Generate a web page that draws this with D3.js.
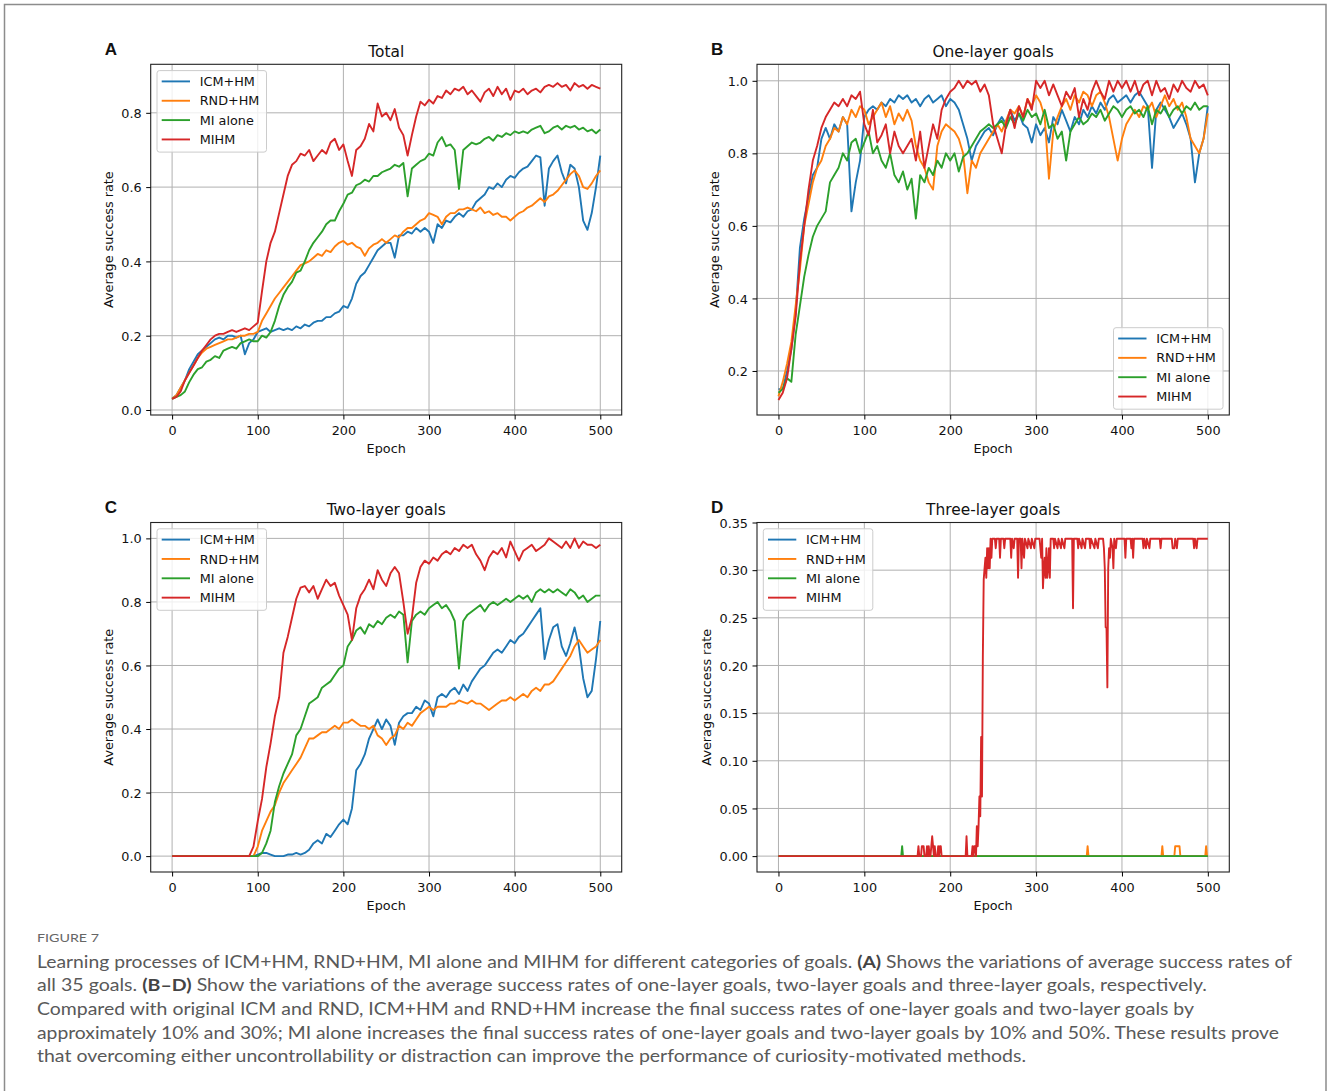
<!DOCTYPE html>
<html>
<head>
<meta charset="utf-8">
<script src="https://cdn.jsdelivr.net/npm/d3@7"></script>
<style>
  body { margin: 0; background: #fff; }
</style>
</head>
<body>
<svg id="fig" width="1328" height="1091"></svg>
<script>
// x categories: epochs sampled every 5
const epochs = d3.range(0, 501, 5);
const methodNames = ["ICM+HM", "RND+HM", "MI alone", "MIHM"];
const methodColors = ["#1f77b4", "#ff7f0e", "#2ca02c", "#d62728"];
const xTicks = [0, 100, 200, 300, 400, 500];

// (A) Total
const totalICM = [
  0.03,0.04,0.06,0.08,0.11,0.13,0.15,0.16,0.17,0.18,
  0.19,0.195,0.19,0.20,0.20,0.195,0.20,0.15,0.18,0.19,
  0.21,0.215,0.22,0.21,0.215,0.22,0.215,0.22,0.215,0.225,
  0.22,0.23,0.225,0.235,0.24,0.24,0.25,0.25,0.26,0.265,
  0.28,0.275,0.30,0.34,0.36,0.37,0.39,0.41,0.43,0.44,
  0.45,0.45,0.41,0.47,0.47,0.48,0.475,0.49,0.48,0.49,
  0.48,0.45,0.50,0.49,0.51,0.505,0.52,0.53,0.52,0.535,
  0.54,0.56,0.57,0.58,0.60,0.595,0.61,0.60,0.62,0.63,
  0.625,0.64,0.65,0.655,0.67,0.685,0.68,0.55,0.65,0.67,
  0.685,0.64,0.61,0.66,0.65,0.60,0.51,0.485,0.53,0.60,
  0.685
];
const totalRND = [
  0.03,0.04,0.06,0.08,0.10,0.12,0.14,0.155,0.165,0.17,
  0.175,0.18,0.185,0.19,0.19,0.195,0.20,0.20,0.205,0.205,
  0.21,0.24,0.26,0.28,0.30,0.315,0.33,0.345,0.36,0.375,
  0.39,0.395,0.40,0.41,0.42,0.415,0.43,0.425,0.44,0.45,
  0.455,0.445,0.45,0.44,0.435,0.415,0.435,0.445,0.45,0.46,
  0.45,0.46,0.47,0.465,0.48,0.49,0.49,0.50,0.51,0.515,
  0.53,0.525,0.52,0.50,0.52,0.53,0.53,0.54,0.54,0.545,
  0.54,0.535,0.545,0.53,0.535,0.525,0.53,0.52,0.52,0.51,
  0.52,0.53,0.535,0.545,0.55,0.56,0.57,0.56,0.575,0.58,
  0.59,0.605,0.62,0.635,0.645,0.63,0.60,0.595,0.61,0.63,
  0.645
];
const totalMI = [
  0.03,0.035,0.04,0.05,0.075,0.095,0.11,0.115,0.13,0.135,
  0.145,0.14,0.16,0.165,0.17,0.165,0.18,0.185,0.19,0.185,
  0.185,0.20,0.195,0.21,0.24,0.28,0.31,0.33,0.345,0.37,
  0.375,0.40,0.43,0.45,0.465,0.48,0.50,0.51,0.51,0.535,
  0.555,0.58,0.585,0.605,0.61,0.62,0.615,0.63,0.63,0.64,
  0.645,0.65,0.66,0.655,0.665,0.575,0.65,0.66,0.67,0.675,
  0.69,0.685,0.72,0.735,0.71,0.715,0.70,0.595,0.70,0.71,
  0.72,0.715,0.72,0.73,0.735,0.725,0.74,0.735,0.745,0.74,
  0.75,0.745,0.75,0.745,0.755,0.76,0.765,0.745,0.75,0.76,
  0.765,0.755,0.765,0.76,0.765,0.755,0.76,0.75,0.755,0.745,
  0.755
];
const totalMIHM = [
  0.03,0.035,0.05,0.08,0.10,0.12,0.14,0.16,0.175,0.19,
  0.20,0.205,0.205,0.21,0.215,0.21,0.215,0.22,0.215,0.225,
  0.235,0.32,0.40,0.45,0.48,0.53,0.58,0.63,0.66,0.67,
  0.69,0.685,0.70,0.67,0.685,0.70,0.69,0.72,0.73,0.70,
  0.715,0.67,0.63,0.70,0.71,0.73,0.77,0.75,0.825,0.79,
  0.80,0.78,0.81,0.76,0.74,0.685,0.74,0.79,0.83,0.82,
  0.835,0.825,0.845,0.84,0.86,0.85,0.865,0.86,0.87,0.85,
  0.86,0.845,0.83,0.855,0.865,0.845,0.87,0.85,0.865,0.835,
  0.86,0.855,0.865,0.85,0.86,0.865,0.855,0.87,0.875,0.87,
  0.88,0.87,0.875,0.86,0.88,0.87,0.875,0.865,0.875,0.87,
  0.865
];

// (B) One-layer goals
const oneICM = [
  0.15,0.15,0.20,0.26,0.36,0.54,0.62,0.68,0.74,0.76,
  0.84,0.87,0.84,0.88,0.86,0.90,0.88,0.64,0.72,0.78,
  0.90,0.92,0.93,0.92,0.94,0.93,0.95,0.94,0.96,0.95,
  0.96,0.94,0.95,0.93,0.95,0.96,0.94,0.95,0.96,0.93,
  0.95,0.94,0.92,0.88,0.84,0.78,0.82,0.84,0.86,0.87,
  0.85,0.88,0.90,0.88,0.92,0.89,0.91,0.88,0.87,0.83,
  0.88,0.85,0.87,0.83,0.90,0.88,0.92,0.89,0.86,0.90,
  0.88,0.92,0.90,0.93,0.91,0.94,0.92,0.95,0.96,0.94,
  0.95,0.96,0.94,0.96,0.97,0.95,0.93,0.76,0.92,0.94,
  0.92,0.90,0.87,0.89,0.91,0.88,0.84,0.72,0.80,0.84,
  0.93
];
const oneRND = [
  0.13,0.17,0.22,0.28,0.38,0.48,0.60,0.66,0.72,0.76,
  0.78,0.82,0.84,0.87,0.86,0.90,0.88,0.92,0.90,0.93,
  0.92,0.88,0.90,0.92,0.94,0.90,0.93,0.88,0.91,0.89,
  0.92,0.89,0.82,0.78,0.76,0.72,0.70,0.82,0.86,0.88,
  0.87,0.86,0.84,0.80,0.69,0.78,0.76,0.80,0.82,0.84,
  0.86,0.88,0.86,0.89,0.92,0.91,0.93,0.90,0.95,0.93,
  0.96,0.94,0.90,0.73,0.86,0.90,0.93,0.95,0.92,0.96,
  0.94,0.97,0.96,0.93,0.96,0.97,0.94,0.90,0.84,0.78,
  0.84,0.88,0.90,0.92,0.90,0.93,0.92,0.94,0.90,0.93,
  0.96,0.93,0.95,0.92,0.94,0.90,0.84,0.82,0.80,0.84,
  0.91
];
const oneMI = [
  0.14,0.15,0.18,0.17,0.30,0.38,0.46,0.52,0.57,0.60,
  0.62,0.64,0.72,0.74,0.76,0.80,0.78,0.83,0.84,0.80,
  0.83,0.86,0.80,0.82,0.78,0.76,0.80,0.74,0.72,0.75,
  0.70,0.73,0.62,0.74,0.72,0.76,0.74,0.78,0.76,0.80,
  0.78,0.80,0.75,0.79,0.80,0.82,0.84,0.86,0.87,0.88,
  0.87,0.88,0.89,0.87,0.90,0.88,0.91,0.89,0.92,0.90,
  0.91,0.88,0.92,0.87,0.88,0.84,0.86,0.78,0.86,0.88,
  0.90,0.88,0.89,0.91,0.90,0.92,0.89,0.91,0.93,0.92,
  0.90,0.92,0.93,0.91,0.92,0.90,0.93,0.88,0.92,0.91,
  0.93,0.90,0.92,0.93,0.91,0.93,0.92,0.94,0.92,0.93,
  0.93
];
const oneMIHM = [
  0.12,0.14,0.18,0.26,0.35,0.50,0.60,0.70,0.78,0.82,
  0.87,0.90,0.92,0.94,0.93,0.95,0.93,0.96,0.95,0.97,
  0.88,0.85,0.92,0.83,0.85,0.88,0.80,0.86,0.82,0.80,
  0.82,0.84,0.78,0.86,0.76,0.82,0.88,0.84,0.92,0.95,
  0.97,0.98,1.0,0.98,1.0,0.99,1.0,0.97,0.99,0.96,
  0.88,0.84,0.80,0.88,0.92,0.87,0.93,0.90,0.95,0.92,
  1.0,0.98,1.0,0.96,0.99,0.96,0.93,0.97,0.95,0.98,
  0.90,0.95,0.92,0.97,1.0,0.97,0.95,1.0,0.97,1.0,
  0.98,1.0,0.97,1.0,0.96,0.99,1.0,0.96,1.0,0.97,
  0.98,0.95,0.99,0.97,1.0,0.98,0.97,1.0,0.98,0.99,
  0.96
];

// (C) Two-layer goals
const twoICM = [
  0,0,0,0,0,0,0,0,0,0,
  0,0,0,0,0,0,0,0,0,0,
  0.005,0.01,0.01,0.005,0.0,0.0,0.0,0.005,0.005,0.01,
  0.005,0.01,0.02,0.04,0.05,0.04,0.07,0.06,0.08,0.10,
  0.115,0.10,0.15,0.27,0.29,0.32,0.37,0.40,0.43,0.40,
  0.43,0.41,0.35,0.42,0.44,0.45,0.45,0.47,0.46,0.49,
  0.48,0.44,0.50,0.51,0.50,0.52,0.53,0.51,0.54,0.52,
  0.55,0.57,0.59,0.60,0.62,0.64,0.65,0.64,0.66,0.68,
  0.67,0.69,0.70,0.72,0.74,0.76,0.78,0.62,0.68,0.72,
  0.73,0.66,0.63,0.67,0.72,0.66,0.56,0.50,0.52,0.62,
  0.74
];
const twoRND = [
  0,0,0,0,0,0,0,0,0,0,
  0,0,0,0,0,0,0,0,0,0,
  0.03,0.08,0.11,0.14,0.16,0.20,0.23,0.25,0.27,0.29,
  0.31,0.34,0.37,0.37,0.38,0.39,0.39,0.40,0.41,0.40,
  0.42,0.42,0.43,0.42,0.41,0.41,0.40,0.41,0.38,0.37,
  0.35,0.37,0.38,0.41,0.40,0.42,0.41,0.43,0.45,0.46,
  0.47,0.46,0.47,0.47,0.47,0.48,0.48,0.49,0.485,0.48,
  0.49,0.48,0.48,0.47,0.46,0.47,0.48,0.49,0.49,0.50,
  0.49,0.50,0.51,0.50,0.52,0.53,0.52,0.54,0.54,0.55,
  0.57,0.59,0.61,0.63,0.66,0.68,0.66,0.64,0.65,0.66,
  0.68
];
const twoMI = [
  0,0,0,0,0,0,0,0,0,0,
  0,0,0,0,0,0,0,0,0,0,
  0.0,0.01,0.04,0.08,0.17,0.22,0.26,0.29,0.32,0.38,
  0.40,0.44,0.48,0.49,0.50,0.53,0.54,0.55,0.57,0.59,
  0.60,0.66,0.68,0.71,0.72,0.70,0.73,0.72,0.74,0.73,
  0.75,0.76,0.75,0.77,0.76,0.61,0.74,0.76,0.77,0.76,
  0.78,0.79,0.80,0.78,0.79,0.77,0.74,0.59,0.74,0.76,
  0.77,0.78,0.79,0.77,0.79,0.80,0.79,0.80,0.81,0.80,
  0.81,0.82,0.81,0.82,0.80,0.83,0.84,0.83,0.84,0.83,
  0.84,0.83,0.82,0.84,0.83,0.81,0.82,0.80,0.81,0.82,
  0.82
];
const twoMIHM = [
  0,0,0,0,0,0,0,0,0,0,
  0,0,0,0,0,0,0,0,0,0.03,
  0.11,0.18,0.28,0.355,0.44,0.50,0.64,0.69,0.75,0.81,
  0.845,0.85,0.83,0.85,0.81,0.84,0.87,0.85,0.86,0.82,
  0.79,0.76,0.68,0.78,0.82,0.84,0.87,0.84,0.90,0.87,
  0.85,0.89,0.91,0.89,0.80,0.70,0.75,0.86,0.91,0.93,
  0.92,0.94,0.93,0.95,0.96,0.95,0.97,0.96,0.98,0.97,
  0.98,0.95,0.93,0.90,0.94,0.96,0.95,0.97,0.94,0.99,
  0.96,0.93,0.96,0.97,0.98,0.96,0.97,0.98,1.0,0.99,
  0.98,0.97,0.99,0.97,1.0,0.97,0.99,0.98,0.98,0.97,
  0.98
];

// (D) Three-layer goals: [epoch, value] breakpoints
const threeICM = [[0, 0], [500, 0]];
const threeRND = [[0,0],[359,0],[360,0.0104],[361,0],[446,0],[447,0.0104],[448,0],[461,0],[462,0.0104],
  [467,0.0104],[468,0],[497,0],[498,0.0104],[499,0],[500,0]];
const threeMI = [[0,0],[143,0],[144,0.0104],[145,0],[500,0]];
const threeMIHM = [[0,0],[162,0],[163,0.0104],[164,0],[166,0],[167,0.0104],[169,0.0104],[170,0],[172,0],
  [173,0.0104],[174,0],[175,0.0104],[176,0],[177,0],[178,0.0104],[179,0.0208],[180,0.0104],[181,0],
  [182,0.0104],[183,0],[185,0],[186,0.0104],[187,0],[188,0.0104],[189,0.0104],[190,0],[218,0],
  [219,0.0208],[220,0],[225,0],[226,0.0104],[227,0],[228,0.0104],[229,0.0104],[230,0],[231,0.0313],
  [232,0.0104],[233,0.0313],[234,0.0625],[235,0.0417],[236,0.125],[237,0.0625],[238,0.21],[239,0.29],
  [240,0.302],[241,0.313],[242,0.292],[243,0.323],[244,0.302],[245,0.323],[246,0.302],[247,0.333],
  [248,0.313],[249,0.333],[252,0.333],[253,0.323],[254,0.333],[257,0.333],[258,0.313],[259,0.333],
  [262,0.333],[263,0.323],[264,0.333],[270,0.333],[271,0.313],[272,0.333],[274,0.323],[275,0.333],
  [278,0.333],[279,0.292],[280,0.333],[282,0.333],[283,0.302],[284,0.333],[286,0.313],[287,0.333],
  [290,0.323],[291,0.333],[294,0.323],[295,0.333],[298,0.323],[299,0.333],[304,0.333],[305,0.323],
  [306,0.313],[307,0.333],[308,0.281],[309,0.302],[310,0.313],[311,0.292],[312,0.323],[313,0.292],
  [314,0.302],[315,0.323],[316,0.292],[317,0.333],[320,0.333],[321,0.323],[322,0.333],[325,0.323],
  [326,0.333],[329,0.323],[330,0.333],[333,0.323],[334,0.333],[342,0.333],[343,0.26],[344,0.333],
  [348,0.333],[349,0.323],[350,0.333],[353,0.323],[354,0.333],[357,0.323],[358,0.333],[362,0.333],
  [363,0.323],[364,0.333],[368,0.323],[369,0.333],[372,0.323],[373,0.333],[378,0.333],[379,0.323],
  [380,0.302],[381,0.24],[382,0.24],[383,0.177],[384,0.302],[385,0.323],[386,0.313],[387,0.333],
  [389,0.323],[390,0.302],[391,0.333],[393,0.323],[394,0.333],[403,0.333],[404,0.313],[405,0.333],
  [410,0.333],[411,0.323],[412,0.333],[413,0.313],[414,0.333],[424,0.333],[425,0.323],[426,0.333],
  [428,0.323],[429,0.333],[432,0.323],[433,0.333],[444,0.333],[445,0.323],[446,0.333],[458,0.333],
  [459,0.323],[461,0.323],[462,0.333],[464,0.323],[465,0.333],[483,0.333],[484,0.323],[485,0.333],
  [487,0.323],[488,0.333],[500,0.333]];

const captionLines = [
  [["Learning processes of ICM+HM, RND+HM, MI alone and MIHM for different categories of goals. ", 0], ["(A)", 1], [" Shows the variations of average success rates of", 0]],
  [["all 35 goals. ", 0], ["(B\u2013D)", 1], [" Show the variations of the average success rates of one-layer goals, two-layer goals and three-layer goals, respectively.", 0]],
  [["Compared with original ICM and RND, ICM+HM and RND+HM increase the final success rates of one-layer goals and two-layer goals by", 0]],
  [["approximately 10% and 30%; MI alone increases the final success rates of one-layer goals and two-layer goals by 10% and 50%. These results prove", 0]],
  [["that overcoming either uncontrollability or distraction can improve the performance of curiosity-motivated methods.", 0]]
];
const captionEnds = [1292, 1207, 1194, 1279, 1026];

const svg = d3.select("#fig");
const mplFont = "DejaVu Sans, Verdana, sans-serif";

// page frame (top, left and right edges)
svg.append("path")
  .attr("d", "M4.5,1091 V4.5 H1326 V1091")
  .attr("fill", "none")
  .attr("stroke", "#8c8c8c")
  .attr("stroke-width", 1.5);

const panels = [
  { letter: "A", title: "Total", x0: 150.7, x1: 621.7, y0: 64.3, y1: 415,
    yDomain: [-0.0135, 0.9306], yTicks: [0, 0.2, 0.4, 0.6, 0.8], fmt: ".1f", legend: "ul",
    series: [totalICM, totalRND, totalMI, totalMIHM] },
  { letter: "B", title: "One-layer goals", x0: 757, x1: 1229.3, y0: 64.3, y1: 415,
    yDomain: [0.0786, 1.0455], yTicks: [0.2, 0.4, 0.6, 0.8, 1.0], fmt: ".1f", legend: "lr",
    series: [oneICM, oneRND, oneMI, oneMIHM] },
  { letter: "C", title: "Two-layer goals", x0: 150.7, x1: 621.7, y0: 522.5, y1: 872,
    yDomain: [-0.05, 1.05], yTicks: [0, 0.2, 0.4, 0.6, 0.8, 1.0], fmt: ".1f", legend: "ul",
    series: [twoICM, twoRND, twoMI, twoMIHM] },
  { letter: "D", title: "Three-layer goals", x0: 757, x1: 1229.3, y0: 522.5, y1: 872,
    yDomain: [-0.01667, 0.35], yTicks: [0, 0.05, 0.1, 0.15, 0.2, 0.25, 0.3, 0.35], fmt: ".2f", legend: "ul",
    series: [threeICM, threeRND, threeMI, threeMIHM] }
];

panels.forEach(function (p, pi) {
  const x = d3.scaleLinear().domain([-25, 525]).range([p.x0, p.x1]);
  const y = d3.scaleLinear().domain(p.yDomain).range([p.y1, p.y0]);
  const g = svg.append("g");

  // grid
  g.selectAll(".gx").data(xTicks).join("line")
    .attr("x1", d => x(d)).attr("x2", d => x(d))
    .attr("y1", p.y0).attr("y2", p.y1)
    .attr("stroke", "#b0b0b0").attr("stroke-width", 1);
  g.selectAll(".gy").data(p.yTicks).join("line")
    .attr("x1", p.x0).attr("x2", p.x1)
    .attr("y1", d => y(d)).attr("y2", d => y(d))
    .attr("stroke", "#b0b0b0").attr("stroke-width", 1);

  // clip
  const clipId = "clip" + pi;
  svg.append("clipPath").attr("id", clipId).append("rect")
    .attr("x", p.x0).attr("y", p.y0).attr("width", p.x1 - p.x0).attr("height", p.y1 - p.y0);

  const line = d3.line().x(d => x(d[0])).y(d => y(d[1]));
  p.series.forEach(function (s, i) {
    const pts = typeof s[0] === "number" ? s.map((v, k) => [epochs[k], v]) : s;
    g.append("path")
      .datum(pts)
      .attr("clip-path", `url(#${clipId})`)
      .attr("d", line)
      .attr("fill", "none")
      .attr("stroke", methodColors[i])
      .attr("stroke-width", 1.9)
      .attr("stroke-linejoin", "round");
  });

  // frame
  g.append("rect")
    .attr("x", p.x0).attr("y", p.y0)
    .attr("width", p.x1 - p.x0).attr("height", p.y1 - p.y0)
    .attr("fill", "none").attr("stroke", "#222").attr("stroke-width", 1.1);

  // axes
  const ax = g.append("g").attr("transform", `translate(0,${p.y1})`)
    .call(d3.axisBottom(x).tickValues(xTicks).tickSize(4.5).tickPadding(6.9));
  const ay = g.append("g").attr("transform", `translate(${p.x0},0)`)
    .call(d3.axisLeft(y).tickValues(p.yTicks).tickFormat(d3.format(p.fmt)).tickSize(4.5).tickPadding(4.5));
  [ax, ay].forEach(function (a) {
    a.select(".domain").remove();
    a.attr("font-family", mplFont).attr("font-size", 12.8);
    a.selectAll("line").attr("stroke", "#000").attr("stroke-width", 1);
    a.selectAll("text").attr("fill", "#111");
  });
  ay.selectAll("text").attr("dy", "0.36em");

  let maxw = 0;
  ay.selectAll("text").each(function () { maxw = Math.max(maxw, this.getBBox().width); });

  // labels
  g.append("text")
    .attr("x", (p.x0 + p.x1) / 2).attr("y", p.y1 + 38)
    .attr("text-anchor", "middle")
    .attr("font-family", mplFont).attr("font-size", 12.8).attr("fill", "#111")
    .text("Epoch");
  const lx = p.x0 - 9 - maxw - 12.8;
  g.append("text")
    .attr("transform", `translate(${lx},${(p.y0 + p.y1) / 2}) rotate(-90)`)
    .attr("text-anchor", "middle")
    .attr("dy", "0.35em")
    .attr("font-family", mplFont).attr("font-size", 12.8).attr("fill", "#111")
    .text("Average success rate");
  g.append("text")
    .attr("x", (p.x0 + p.x1) / 2).attr("y", p.y0 - 7.7)
    .attr("text-anchor", "middle")
    .attr("font-family", mplFont).attr("font-size", 15.4).attr("fill", "#111")
    .text(p.title);
  g.append("text")
    .attr("x", p.x0 - 46).attr("y", p.y0 - 9.5)
    .attr("font-family", "Liberation Sans, Arial, sans-serif")
    .attr("font-weight", "bold").attr("font-size", 17).attr("fill", "#111")
    .text(p.letter);

  // legend
  const lw = 109.5, lh = 81.5;
  const fx = p.legend === "ul" ? p.x0 + 6.3 : p.x1 - 6.3 - lw;
  const fy = p.legend === "ul" ? p.y0 + 6.3 : p.y1 - 5.8 - lh;
  const lg = g.append("g");
  lg.append("rect")
    .attr("x", fx).attr("y", fy).attr("width", lw).attr("height", lh)
    .attr("rx", 2.5)
    .attr("fill", "#fff").attr("fill-opacity", 0.8)
    .attr("stroke", "#cccccc").attr("stroke-width", 1);
  methodNames.forEach(function (name, i) {
    const ry = fy + 10.8 + 19.35 * i;
    lg.append("line")
      .attr("x1", fx + 4.7).attr("x2", fx + 33)
      .attr("y1", ry).attr("y2", ry)
      .attr("stroke", methodColors[i]).attr("stroke-width", 1.9);
    lg.append("text")
      .attr("x", fx + 42.7).attr("y", ry).attr("dy", "0.36em")
      .attr("font-family", mplFont).attr("font-size", 12.8).attr("fill", "#111")
      .text(name);
  });
});

// caption
svg.append("text")
  .attr("x", 37).attr("y", 941.5)
  .attr("font-family", "Lato, Open Sans, sans-serif")
  .attr("font-size", 12).attr("fill", "#666")
  .attr("textLength", 62).attr("lengthAdjust", "spacingAndGlyphs")
  .text("FIGURE 7");

captionLines.forEach(function (parts, i) {
  const t = svg.append("text")
    .attr("x", 37).attr("y", 967.5 + 23.7 * i)
    .attr("font-family", "Lato, Open Sans, sans-serif")
    .attr("font-size", 17.5).attr("fill", "#595959");
  parts.forEach(function (pt) {
    t.append("tspan")
      .attr("font-weight", pt[1] ? "bold" : "normal")
      .attr("fill", pt[1] ? "#444" : "#595959")
      .text(pt[0]);
  });
  t.attr("textLength", captionEnds[i] - 37).attr("lengthAdjust", "spacingAndGlyphs");
});
</script>
</body>
</html>
